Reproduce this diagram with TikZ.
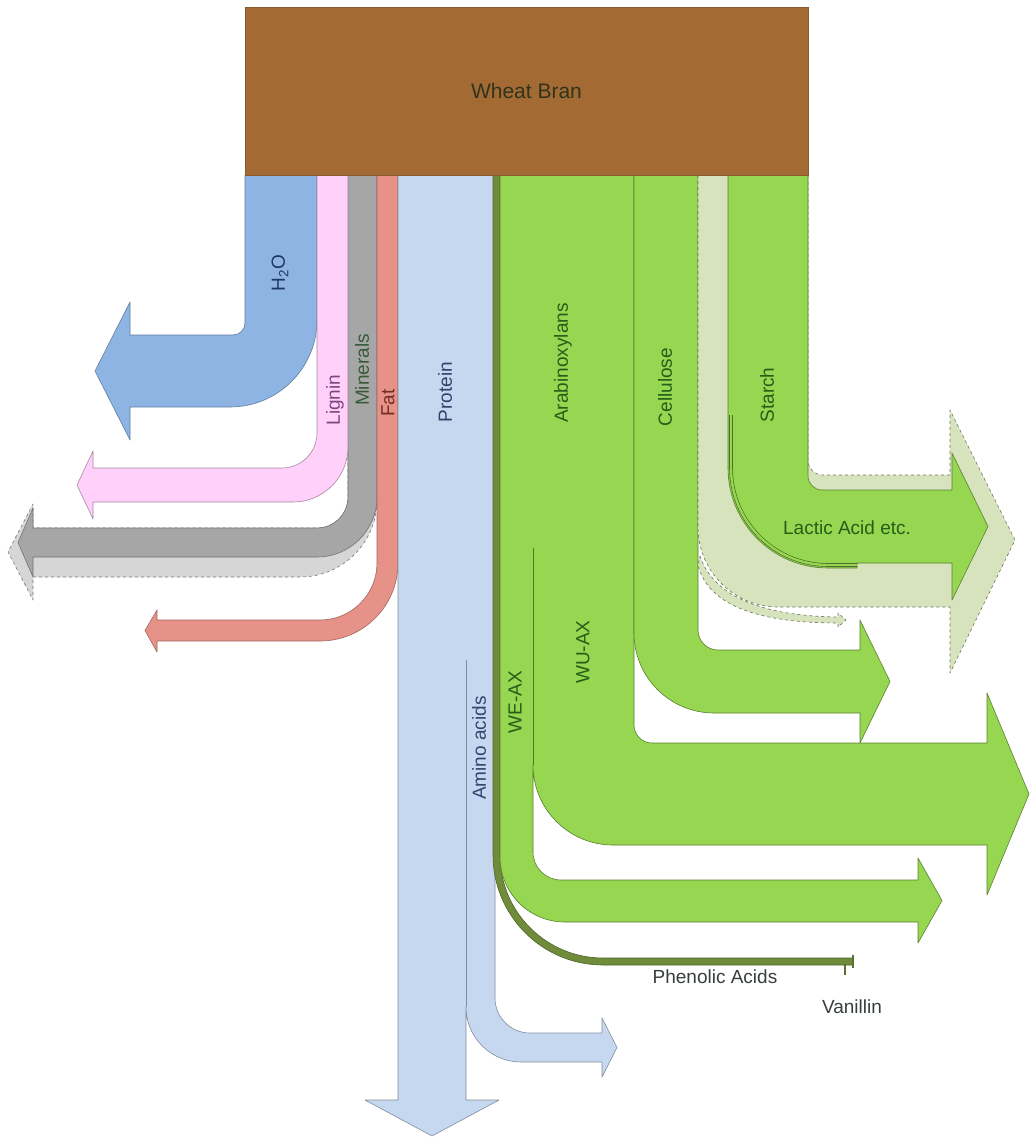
\documentclass[tikz,border=0pt]{standalone}
\usepackage{fontspec}
\setmainfont{Liberation Sans}
\definecolor{cBrown}{RGB}{163,106,52}
\definecolor{cBlue}{RGB}{141,180,226}
\definecolor{cPink}{RGB}{255,208,250}
\definecolor{cGray}{RGB}{166,166,166}
\definecolor{cLGray}{RGB}{214,214,214}
\definecolor{cRed}{RGB}{230,146,136}
\definecolor{cProt}{RGB}{198,216,240}
\definecolor{cGreen}{RGB}{150,214,80}
\definecolor{cPale}{RGB}{214,227,188}
\definecolor{cOlive}{RGB}{112,140,58}
\definecolor{tGreen}{RGB}{35,95,25}
\tikzset{
  flow/.style={line width=0.6pt, line join=round},
  blueflow/.style={flow, fill=cBlue, draw=cBlue!70!black},
  pinkflow/.style={flow, fill=cPink, draw=cPink!65!black},
  grayflow/.style={flow, fill=cGray, draw=cGray!70!black},
  lgrayflow/.style={flow, fill=cLGray, draw=cLGray!55!black, dashed},
  redflow/.style={flow, fill=cRed, draw=cRed!70!black},
  protflow/.style={flow, fill=cProt, draw=cProt!65!black},
  greenflow/.style={flow, fill=cGreen, draw=cGreen!60!black},
  paleflow/.style={flow, fill=cPale, draw=cPale!50!black, dashed},
  oliveflow/.style={flow, fill=cOlive, draw=cOlive!70!black},
  lbl/.style={font=\fontsize{19}{22}\selectfont, inner sep=0pt},
  vlbl/.style={lbl, rotate=90},
}
\begin{document}
\begin{tikzpicture}[x=1pt,y=1pt,yscale=-1]
\useasboundingbox (0,0) rectangle (1030,1137);
% Minerals ghost (dashed)
\path[lgrayflow] (348,175) -- (348,497) arc[start angle=0,end angle=90,radius=31] -- (33,528) -- (33,504) -- (8,552) -- (33,600) -- (33,577) -- (300,577) arc[start angle=90,end angle=0,radius=77] -- (377,175) -- cycle;
% Minerals
\path[grayflow] (348,175) -- (348,497) arc[start angle=0,end angle=90,radius=31] -- (33,528) -- (33,508) -- (18,542.5) -- (33,577) -- (33,557) -- (317,557) arc[start angle=90,end angle=0,radius=60] -- (377,175) -- cycle;
% H2O
\path[blueflow] (245,175) -- (245,323) arc[start angle=0,end angle=90,radius=12] -- (130,335) -- (130,302) -- (95,371) -- (130,440) -- (130,407) -- (230,407) arc[start angle=90,end angle=0,radius=87] -- (317,175) -- cycle;
% Lignin
\path[pinkflow] (317,175) -- (317,433) arc[start angle=0,end angle=90,radius=35] -- (93,468) -- (93,451) -- (77,485) -- (93,519) -- (93,502) -- (293,502) arc[start angle=90,end angle=0,radius=55] -- (348,175) -- cycle;
% Fat
\path[redflow] (377,175) -- (377,563) arc[start angle=0,end angle=90,radius=57] -- (157,620) -- (157,610) -- (145,630.5) -- (157,652) -- (157,641) -- (320,641) arc[start angle=90,end angle=0,radius=78] -- (398,175) -- cycle;
% Protein with Amino acids
\path[protflow] (398,175) -- (398,1100) -- (365,1100) -- (432,1136) -- (499,1100) -- (466,1100) -- (466,1007) arc[start angle=180,end angle=90,radius=55] -- (602,1062) -- (602,1077) -- (617,1047.5) -- (602,1018) -- (602,1033) -- (530,1033) arc[start angle=90,end angle=180,radius=35] -- (495,175) -- cycle;
\coordinate (amA) at (466,660);
\coordinate (amB) at (466,1007);
\draw[cProt!65!black, line width=0.6pt] (amA) -- (amB);
% Phenolic acids
\path[oliveflow] (493,175) -- (493,855) arc[start angle=180,end angle=90,radius=110] -- (853,965) -- (853,958) -- (603,958) arc[start angle=90,end angle=180,radius=103] -- (500,175) -- cycle;
\coordinate (vanA) at (845,964);
\coordinate (vanB) at (845,975);
\draw[cOlive!80!black, line width=1.6pt] (vanA) -- (vanB);
\draw[cOlive!80!black, line width=1.2pt] (853,955) -- (853,968);
% Arabinoxylans: WE-AX and WU-AX
\path[greenflow] (500,175) -- (500,857) arc[start angle=180,end angle=90,radius=65] -- (918,922) -- (918,943) -- (942,900.5) -- (918,858) -- (918,880) -- (561,880) arc[start angle=90,end angle=180,radius=28] -- (533,765) arc[start angle=180,end angle=90,radius=80] -- (987,845) -- (987,895) -- (1029,794) -- (987,693) -- (987,743) -- (652,743) arc[start angle=90,end angle=180,radius=18] -- (634,175) -- cycle;
\coordinate (wuA) at (533,548);
\coordinate (wuB) at (533,765);
\draw[cGreen!55!black, line width=0.6pt] (wuA) -- (wuB);
% Cellulose
\path[greenflow] (634,175) -- (634,633) arc[start angle=180,end angle=90,radius=80] -- (860,713) -- (860,743) -- (890,681.5) -- (860,620) -- (860,650) -- (718,650) arc[start angle=90,end angle=180,radius=20] -- (698,175) -- cycle;
% Pale flow (dashed)
\path[paleflow] (700,556) .. controls (714,598) and (765,616) .. (838,617) -- (838,613) -- (846,620) -- (838,627) -- (838,623) .. controls (760,623) and (708,606) .. (698,565) -- cycle;
\path[paleflow] (698,175) -- (698,527) arc[start angle=180,end angle=90,radius=80] -- (950,607) -- (950,673) -- (1015,540) -- (950,410) -- (950,475) -- (823,475) arc[start angle=90,end angle=180,radius=15] -- (808,175) -- cycle;
% Starch -> Lactic acid
\path[greenflow] (728,175) -- (728,468) arc[start angle=180,end angle=90,radius=100] -- (857,568) -- (857,563) -- (952,563) -- (952,600) -- (988,526.5) -- (952,453) -- (952,490) -- (822,490) arc[start angle=90,end angle=180,radius=14] -- (808,175) -- cycle;
\draw[cGreen!45!black, line width=0.6pt, double=cGreen, double distance=2.4pt] (731,415) -- (731,468) arc[start angle=180,end angle=90,radius=97] -- (857,565);
% Wheat bran box
\node[draw=cBrown!85!black, fill=cBrown, minimum width=563pt, minimum height=168pt, inner sep=0pt, font=\fontsize{21}{24}\selectfont, text={rgb,255:red,48;green,52;blue,28}] (bran) at (526.5,91) {Wheat Bran};
% Labels
\node[vlbl, text={rgb,255:red,30;green,55;blue,105}] (lH2O) at (280,273) {H\textsubscript{2}O};
\node[vlbl, text={rgb,255:red,125;green,70;blue,125}] (lLignin) at (335,400) {Lignin};
\node[vlbl, text={rgb,255:red,55;green,90;blue,55}] (lMin) at (362,370) {Minerals};
\node[vlbl, text={rgb,255:red,115;green,45;blue,35}] (lFat) at (388,403) {Fat};
\node[vlbl, text={rgb,255:red,45;green,65;blue,105}] (lProt) at (445,392) {Protein};
\node[vlbl, text=tGreen] (lAra) at (563,363) {Arabinoxylans};
\node[vlbl, text=tGreen] (lCel) at (665,387) {Cellulose};
\node[vlbl, text=tGreen] (lSta) at (767,395) {Starch};
\node[vlbl, text=tGreen] (lWE) at (515,702) {WE-AX};
\node[vlbl, text=tGreen] (lWU) at (583,652) {WU-AX};
\node[vlbl, text={rgb,255:red,50;green,70;blue,110}] (lAmino) at (479,748) {Amino acids};
\node[lbl, text=tGreen] (lLac) at (847,528) {Lactic Acid etc.};
\node[lbl, text={rgb,255:red,55;green,62;blue,62}] (lPhen) at (715,977) {Phenolic Acids};
\node[lbl, text={rgb,255:red,55;green,62;blue,62}] (lVan) at (852,1007) {Vanillin};
\end{tikzpicture}
\end{document}
